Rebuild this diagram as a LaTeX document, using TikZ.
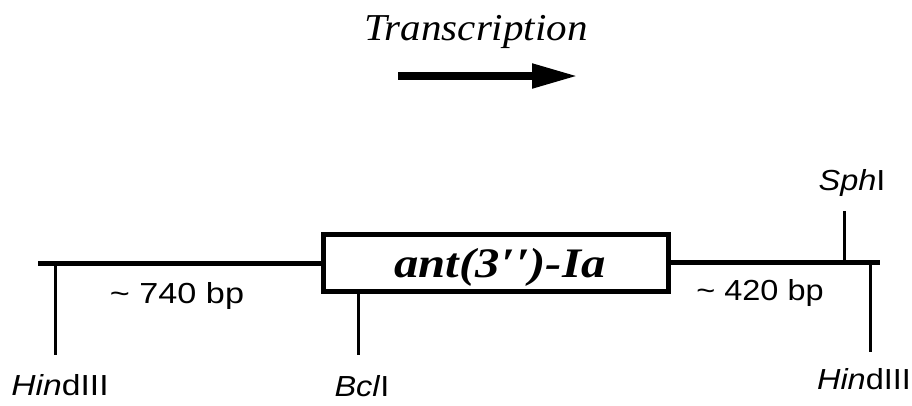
\documentclass[tikz,border=0pt]{standalone}
\usepackage{fontspec}
\setmainfont{Liberation Serif}
\newfontfamily\helv{Liberation Sans}
\usetikzlibrary{arrows.meta}

\tikzset{
  dna/.style={line width=5pt},
  site/.style={line width=3pt},
  gene/.style={draw, line width=5pt, minimum width=345pt, minimum height=57pt, inner sep=0pt},
  enzyme/.style={anchor=base, inner sep=0pt, font=\helv\fontsize{29}{34}\selectfont},
  size/.style={anchor=base, inner sep=0pt, font=\helv\fontsize{29}{34}\selectfont},
}
\newcommand{\wide}[2]{\scalebox{#1}[1]{#2}}

\begin{document}
\begin{tikzpicture}[x=1pt, y=-1pt]
  \useasboundingbox (0,0) rectangle (912,405);

  % transcription direction
  \node[anchor=base, inner sep=0pt, font=\itshape\fontsize{38}{44}\selectfont] (tr) at (476,40) {\wide{1.08}{Transcription}};
  \coordinate (arrS) at (398,76);
  \coordinate (arrE) at (578,76);
  \draw[line width=8pt, -{Triangle[length=46pt, width=23pt]}] (arrS) -- (arrE);

  % gene box
  \node[gene] (gene) at (495.5,263) {};
  \node[anchor=base, inner sep=0pt, font=\bfseries\itshape\fontsize{42}{48}\selectfont] (glab) at (500,277) {\wide{1.16}{ant(3\kern1pt\symbol{"2032}\kern1pt\symbol{"2032})-Ia}};

  % flanking DNA
  \coordinate (leftEnd) at (38,263);
  \coordinate (rightEnd) at (880,262);
  \draw[dna] (leftEnd) -- (gene.west |- leftEnd);
  \draw[dna] (gene.east |- rightEnd) -- (rightEnd);

  % restriction sites
  \coordinate (h1top) at (55,263);  \coordinate (h1bot) at (55,355);
  \coordinate (bctop) at (358,292); \coordinate (bcbot) at (358,355);
  \coordinate (sptop) at (844,211); \coordinate (spbot) at (844,262);
  \coordinate (h2top) at (870,262); \coordinate (h2bot) at (870,352);
  \draw[site] (h1top) -- (h1bot);
  \draw[site] (bctop) -- (bcbot);
  \draw[site] (sptop) -- (spbot);
  \draw[site] (h2top) -- (h2bot);

  \node[enzyme] (hind1) at (60,395) {\wide{1.16}{\textit{Hin}dIII}};
  \node[enzyme] (bcl) at (362,396) {\wide{1.12}{\textit{Bcl}I}};
  \node[enzyme] (sph) at (852,190) {\wide{1.12}{\textit{Sph}I}};
  \node[enzyme] (hind2) at (864,389) {\wide{1.12}{\textit{Hin}dIII}};

  % fragment sizes
  \node[size] (s740) at (177,303) {\wide{1.18}{\textasciitilde\ 740 bp}};
  \node[size] (s420) at (760,300) {\wide{1.12}{\textasciitilde\ 420 bp}};
\end{tikzpicture}
\end{document}
